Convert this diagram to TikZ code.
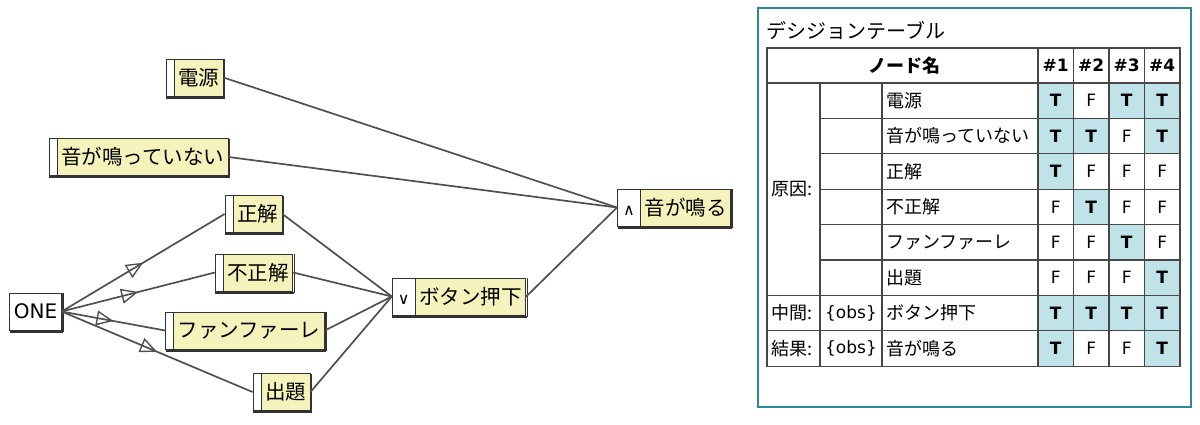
\documentclass[tikz,border=0pt]{standalone}
\usepackage{fontspec}
\setmainfont{Noto Sans CJK JP}
\newfontfamily\lat{DejaVu Sans}
\usetikzlibrary{arrows.meta,decorations.markings}

\definecolor{varyellow}{RGB}{245,243,187}
\definecolor{cellblue}{RGB}{192,227,233}
\definecolor{frameteal}{RGB}{42,138,152}
\definecolor{linkgray}{RGB}{80,80,80}
\definecolor{boxgray}{RGB}{50,50,50}

\tikzset{
  stripewidth/.store in=\stripew, stripewidth=8pt,
  boxshadow/.style={append after command={
    ([xshift=0.5pt,yshift=-1.2pt]\tikzlastnode.south west) edge[draw=boxgray, line width=2pt]
    ([xshift=1.2pt,yshift=-1.2pt]\tikzlastnode.south east)
    ([xshift=1.2pt,yshift=-1.2pt]\tikzlastnode.south east) edge[draw=boxgray, line width=1.4pt]
    ([xshift=1.2pt,yshift=-0.5pt]\tikzlastnode.north east)}},
  basebox/.style={rectangle, draw=boxgray, fill=varyellow, line width=0.9pt,
    inner xsep=4pt, inner ysep=0pt, minimum height=37pt,
    font=\fontsize{20.5}{23}\selectfont, boxshadow,
    path picture={
      \fill[white] (path picture bounding box.south west) rectangle
        ([xshift=\stripew]path picture bounding box.north west);
      \draw[boxgray, line width=0.9pt] ([xshift=\stripew]path picture bounding box.south west) --
        ([xshift=\stripew]path picture bounding box.north west);}},
  varbox/.style={basebox, stripewidth=8pt, execute at begin node={\hspace{8pt}}},
  opbox/.style={basebox, stripewidth=23pt},
  onebox/.style={rectangle, draw=boxgray, fill=white, line width=0.9pt,
    inner xsep=4pt, inner ysep=0pt, minimum height=37pt,
    font=\lat\fontsize{20}{22}\selectfont, boxshadow},
  link/.style={draw=linkgray, line width=1.7pt},
  midarrow/.style={link, postaction={decorate},
    decoration={markings, mark=at position 0.5 with {\arrow[linkgray,line width=1.4pt]{Triangle[open,length=17pt,width=15pt]}}}},
  tabtext/.style={font=\fontsize{18}{20}\selectfont, inner sep=0pt},
  grid/.style={draw=boxgray!90, line width=1.1pt}
}

\newcommand{\opsym}[1]{\makebox[15pt]{\lat\fontsize{16}{16}\selectfont#1}\hspace{8pt}}

\begin{document}
\begin{tikzpicture}[x=1pt,y=-1pt]

\useasboundingbox (0,0) rectangle (1200,424);

% graph
\node[varbox] (dengen) at (194.5,77.5) {電源};
\node[varbox] (naranai) at (138.5,157) {音が鳴っていない};
\node[varbox] (seikai) at (253.5,214) {正解};
\node[varbox] (fuseikai) at (254,272.5) {不正解};
\node[varbox] (fanfare) at (245,330.5) {ファンファーレ};
\node[varbox] (shutsudai) at (281.5,392) {出題};
\node[onebox] (one) at (35.5,311.5) {ONE};
\node[opbox] (button) at (459,296.5) {\opsym{∨}ボタン押下};
\node[opbox] (naru) at (674,207.5) {\opsym{∧}音が鳴る};

\draw[midarrow] (one.east) -- (seikai.west);
\draw[midarrow] (one.east) -- (fuseikai.west);
\draw[midarrow] (one.east) -- (fanfare.west);
\draw[midarrow] (one.east) -- (shutsudai.west);

\draw[link] (seikai.east) -- (button.west);
\draw[link] (fuseikai.east) -- (button.west);
\draw[link] (fanfare.east) -- (button.west);
\draw[link] (shutsudai.east) -- (button.west);

\draw[link] (dengen.east) -- (naru.west);
\draw[link] (naranai.east) -- (naru.west);
\draw[link] (button.east) -- (naru.west);

% decision table
\draw[frameteal, line width=2pt] (758,8) rectangle (1191,407);
\node[anchor=base west, font=\fontsize{20}{22}\selectfont, inner sep=0pt] (dttitle) at (766,38) {デシジョンテーブル};

\def\rh{35.4}
\def\cw{35.5}

\foreach \name/\vals [count=\r] in {電源/{T,F,T,T}, 音が鳴っていない/{T,T,F,T}, 正解/{T,F,F,F},
    不正解/{F,T,F,F}, ファンファーレ/{F,F,T,F}, 出題/{F,F,F,T},
    ボタン押下/{T,T,T,T}, 音が鳴る/{T,F,F,T}} {
  \pgfmathsetmacro\yt{83+(\r-1)*\rh}
  \node[tabtext, anchor=west] (n-\r) at (886,\yt+\rh/2) {\name};
  \foreach \v [count=\c] in \vals {
    \pgfmathsetmacro\xl{1038+(\c-1)*\cw}
    \if\v T
      \fill[cellblue] (\xl,\yt) rectangle (\xl+\cw,\yt+\rh);
      \node[tabtext, font=\lat\bfseries\fontsize{17}{20}\selectfont] (v-\r-\c) at (\xl+\cw/2,\yt+\rh/2) {T};
    \else
      \node[tabtext, font=\lat\fontsize{17}{20}\selectfont] (v-\r-\c) at (\xl+\cw/2,\yt+\rh/2) {F};
    \fi
  }
}

% header
\node[tabtext, font=\bfseries\fontsize{18}{20}\selectfont] (hname) at (904,65.5) {ノード名};
\foreach \c in {1,...,4}
  \node[tabtext, font=\lat\bfseries\fontsize{17}{20}\selectfont] (h-\c) at (1038+\c*\cw-\cw/2,65.5) {\#\c};

% left columns
\node[tabtext, anchor=west] (gen) at (771,189.2) {原因:};
\node[tabtext, anchor=west] (mid) at (771,313.1) {中間:};
\node[tabtext, anchor=west] (res) at (771,348.5) {結果:};
\node[tabtext, font=\lat\fontsize{17}{20}\selectfont] (obs-a) at (851,313.1) {\{obs\}};
\node[tabtext, font=\lat\fontsize{17}{20}\selectfont] (obs-b) at (851,348.5) {\{obs\}};

% grid
\draw[grid] (767,48) rectangle (1180,366.2);
\draw[grid] (767,83) -- (1180,83);
\foreach \r in {1,...,5}
  \draw[grid] (820,83+\r*\rh) -- (1180,83+\r*\rh);
\foreach \r in {6,7}
  \draw[grid] (767,83+\r*\rh) -- (1180,83+\r*\rh);
\draw[grid] (820,83) -- (820,366.2);
\draw[grid] (882,83) -- (882,366.2);
\foreach \c in {0,...,3}
  \draw[grid] (1038+\c*\cw,48) -- (1038+\c*\cw,366.2);

\end{tikzpicture}
\end{document}
